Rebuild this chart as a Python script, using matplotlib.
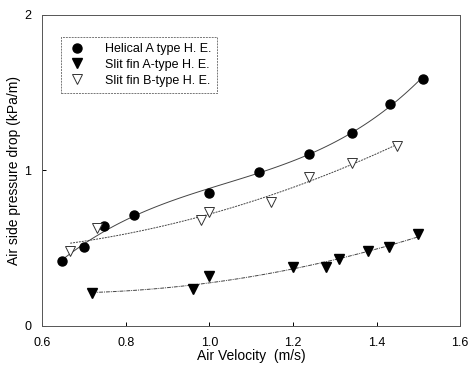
import numpy as np
import matplotlib
matplotlib.use('Agg')
import matplotlib.pyplot as plt

plt.rcParams['font.family'] = ['Liberation Sans', 'DejaVu Sans']

# Helical A type
helical_x = [0.648, 0.699, 0.749, 0.819, 1.0, 1.118, 1.238, 1.341, 1.432, 1.511]
helical_y = [0.418, 0.508, 0.643, 0.714, 0.855, 0.99, 1.106, 1.24, 1.43, 1.59]

# Slit fin A type
slitA_x = [0.72, 0.96, 1.0, 1.2, 1.28, 1.31, 1.38, 1.43, 1.50]
slitA_y = [0.21, 0.24, 0.32, 0.38, 0.38, 0.43, 0.48, 0.51, 0.59]

# Slit fin B type
slitB_x = [0.667, 0.73, 0.98, 1.0, 1.147, 1.238, 1.341, 1.45]
slitB_y = [0.48, 0.63, 0.68, 0.73, 0.80, 0.96, 1.05, 1.16]

labels = ["Helical A type H. E.", "Slit fin A-type H. E.", "Slit fin B-type H. E."]
xticks = [0.6, 0.8, 1.0, 1.2, 1.4, 1.6]
yticks = [0, 1, 2]

fig = plt.figure(figsize=(4.69, 3.65), dpi=100)
ax = fig.add_axes([0.09, 0.107, 0.891, 0.852])


def fit_line(x, y, deg, ls):
    # polynomial trend through the measured points
    c = np.polyfit(x, y, deg)
    xs = np.linspace(min(x), max(x), 100)
    ax.plot(xs, np.polyval(c, xs), color='#444444', lw=0.7, ls=ls)


fit_line(helical_x, helical_y, 3, '-')
fit_line(slitA_x, slitA_y, 2, (0, (4, 1, 1, 1)))
fit_line(slitB_x, slitB_y, 2, (0, (2, 1)))

ax.plot(helical_x, helical_y, 'o', color='black', ms=6.5, ls='none', label=labels[0])
ax.plot(slitA_x, slitA_y, 'v', color='black', ms=6.5, ls='none', label=labels[1])
ax.plot(slitB_x, slitB_y, 'v', mfc='white', mec='#333333', mew=0.7, ms=6.5,
        ls='none', label=labels[2])

ax.set_xlim(0.6, 1.6)
ax.set_ylim(0, 2)
ax.set_xticks(xticks)
ax.set_xticklabels([f"{t:.1f}" for t in xticks])
ax.set_yticks(yticks)
ax.tick_params(direction='in', length=3, labelsize=9, width=0.7)
ax.tick_params(axis='x', pad=8)
ax.tick_params(axis='y', pad=8)
for s in ax.spines.values():
    s.set_linewidth(0.7)
    s.set_color('#555555')

ax.set_xlabel("Air Velocity  (m/s)", fontsize=10, labelpad=0)
ax.set_ylabel("Air side pressure drop (kPa/m)", fontsize=10, labelpad=2)

leg = ax.legend(loc='upper left', bbox_to_anchor=(0.03, 0.95), fontsize=9,
                frameon=True, fancybox=False, edgecolor='#555555',
                handletextpad=1.5, borderpad=0.5, labelspacing=0.3, handlelength=1.5)
leg.get_frame().set_linewidth(0.7)
leg.get_frame().set_linestyle((0, (2, 1)))

fig.savefig('out.png', dpi=100)
